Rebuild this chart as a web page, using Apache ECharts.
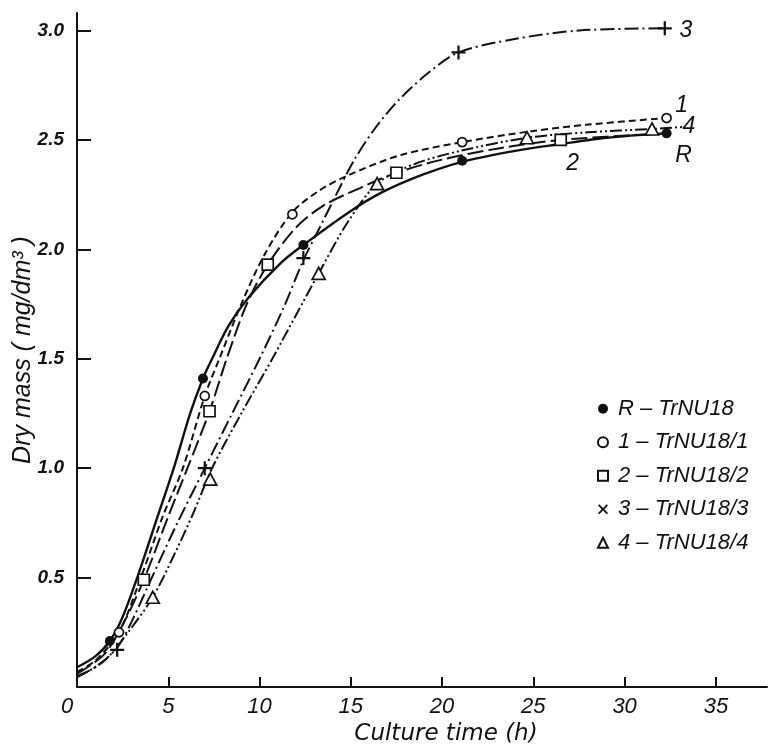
<!DOCTYPE html>
<html>
<head>
<meta charset="utf-8">
<script src="https://cdn.jsdelivr.net/npm/echarts@6/dist/echarts.min.js"></script>
<style>
  html, body { margin: 0; padding: 0; background: #fff; }
  #chart { width: 772px; height: 744px; }
</style>
</head>
<body>
<div id="chart"></div>
<script>
// strain names (legend) and short tags written next to curve ends
const strainNames = ['R \u2013 TrNU18', '1 \u2013 TrNU18/1', '2 \u2013 TrNU18/2', '3 \u2013 TrNU18/3', '4 \u2013 TrNU18/4'];
const curveTags = ['R', '1', '2', '3', '4'];

const xTicks = [0, 5, 10, 15, 20, 25, 30, 35];
const yTicks = [0.5, 1.0, 1.5, 2.0, 2.5, 3.0];

// measured points [culture time h, dry mass mg/dm3]
const pointsR = [[1.8, 0.21], [6.9, 1.41], [12.4, 2.02], [21.1, 2.405], [32.3, 2.53]];
const points1 = [[2.3, 0.25], [7.0, 1.33], [11.8, 2.16], [21.1, 2.49], [32.3, 2.60]];
const points2 = [[3.66, 0.49], [7.26, 1.26], [10.45, 1.93], [17.5, 2.35], [26.5, 2.5]];
const points3 = [[2.2, 0.17], [7.0, 1.0], [12.4, 1.96], [20.9, 2.9], [32.2, 3.01]];
const points4 = [[4.15, 0.41], [7.3, 0.95], [13.24, 1.89], [16.44, 2.3], [24.65, 2.51], [31.5, 2.55]];

// fitted curves
const curveR = [[0, 0.09], [1, 0.14], [1.8, 0.21], [2.5, 0.32], [3.3, 0.5], [4.3, 0.75], [5.3, 1.0], [6.2, 1.25],
  [6.9, 1.41], [7.4, 1.5], [8.3, 1.65], [9.4, 1.78], [11.2, 1.94], [12.4, 2.02], [14.9, 2.17], [16.7, 2.26],
  [18.9, 2.34], [21.1, 2.4], [24, 2.45], [26.4, 2.48], [29, 2.51], [32.3, 2.53]];
const curve1 = [[0, 0.07], [1, 0.12], [2.3, 0.25], [3.5, 0.5], [4.7, 0.78], [5.8, 1.0], [7.0, 1.33], [7.8, 1.5],
  [9, 1.75], [10.3, 1.98], [11.8, 2.17], [13.3, 2.27], [14.9, 2.34], [17.7, 2.43], [21.1, 2.49], [24.9, 2.54],
  [28, 2.57], [32.3, 2.6]];
const curve2 = [[0, 0.06], [1.5, 0.15], [2.6, 0.3], [3.66, 0.49], [5, 0.78], [6.05, 1.0], [7.26, 1.26], [8.2, 1.5],
  [9.3, 1.75], [10.45, 1.93], [12, 2.1], [13.5, 2.2], [15.5, 2.28], [17.5, 2.35], [20, 2.41], [23, 2.46],
  [26.5, 2.5], [32.3, 2.53]];
const curve3 = [[0, 0.05], [1, 0.09], [2.2, 0.18], [3, 0.3], [4.1, 0.5], [5.5, 0.75], [7.0, 1.0], [8.5, 1.25],
  [10.0, 1.5], [11.3, 1.73], [12.4, 1.95], [13.3, 2.1], [14.2, 2.25], [15.2, 2.41], [16.3, 2.55], [17.6, 2.68],
  [19.3, 2.81], [20.9, 2.9], [23.9, 2.96], [27.5, 3.0], [32.2, 3.01]];
const curve4 = [[0, 0.045], [1.5, 0.12], [2.8, 0.25], [4.15, 0.41], [5.3, 0.6], [6.4, 0.8], [7.4, 1.0], [9, 1.25],
  [10.7, 1.5], [12, 1.7], [13.24, 1.89], [14.8, 2.12], [16.44, 2.3], [18.5, 2.39], [21, 2.45], [24.65, 2.51],
  [28, 2.535], [31.5, 2.55], [33.3, 2.56]];

const allPoints = [pointsR, points1, points2, points3, points4];
const allCurves = [curveR, curve1, curve2, curve3, curve4];

const ink = '#111';
const fam = '"Liberation Sans", "DejaVu Sans", sans-serif';
const plusPath = 'path://M4.2,0h1.6v4.2h4.2v1.6h-4.2v4.2h-1.6v-4.2h-4.2v-1.6h4.2z';
const crossPath = 'path://M0,1.3L1.3,0L5,3.7L8.7,0L10,1.3L6.3,5L10,8.7L8.7,10L5,6.3L1.3,10L0,8.7L3.7,5Z';

const symbols = ['circle', 'circle', 'rect', plusPath, 'triangle'];
const symSizes = [10, 9, 11, 14, [13, 12]];
const fills = [ink, '#fff', '#fff', ink, '#fff'];
const borders = [0, 1.7, 1.7, 0, 1.7];
const legendIcons = ['circle', 'circle', 'rect', crossPath, 'triangle'];
const dashes = ['solid', [7, 4], [16, 5], [14, 4, 2, 4], [12, 3, 2, 3, 2, 3]];
// tag label placement: which point carries it and offset from the marker
const tagPoint = [4, 4, 4, 4, 5];
const tagOffset = [[17, 22], [15, -12], [12, 24], [21, 2], [37, -2]];

const chart = echarts.init(document.getElementById('chart'), null, { renderer: 'canvas' });

const series = [];
allPoints.forEach(function (pts, i) {
  series.push({
    type: 'scatter',
    name: strainNames[i],
    symbol: symbols[i],
    symbolSize: symSizes[i],
    z: 4,
    itemStyle: { color: fills[i], borderColor: ink, borderWidth: borders[i], opacity: 1 },
    data: pts.map(function (p, k) {
      if (k !== tagPoint[i]) return p;
      return {
        value: p,
        label: {
          show: true, position: 'inside', offset: tagOffset[i], formatter: curveTags[i],
          color: ink, fontSize: 23, fontStyle: 'italic', fontFamily: fam
        }
      };
    })
  });
});
allCurves.forEach(function (c, i) {
  series.push({
    type: 'line',
    name: strainNames[i],
    data: c,
    smooth: 0.3,
    symbol: 'none',
    z: 2,
    lineStyle: { color: ink, width: i === 0 ? 2.4 : 2, type: dashes[i] }
  });
});

chart.setOption({
  backgroundColor: '#ffffff',
  animation: false,
  grid: { left: 77, right: 5, top: 13, bottom: 57, outerBoundsMode: 'none', containLabel: false },
  legend: {
    orient: 'vertical',
    left: 592,
    top: 392,
    itemWidth: 10,
    itemHeight: 10,
    itemGap: 10,
    selectedMode: false,
    textStyle: { color: ink, fontSize: 22, fontStyle: 'italic', fontFamily: fam, lineHeight: 23.5, padding: [0, 0, 0, 5] },
    data: strainNames.map(function (n, i) { return { name: n, icon: legendIcons[i] }; })
  },
  xAxis: {
    type: 'value',
    min: 0,
    max: 37.8,
    name: 'Culture time (h)',
    nameLocation: 'middle',
    nameGap: 36,
    nameMoveOverlap: false,
    nameTextStyle: { color: ink, fontSize: 23, fontStyle: 'italic', fontFamily: '"DejaVu Sans", sans-serif', padding: [0, 0, 0, 48] },
    splitLine: { show: false },
    axisLine: { lineStyle: { color: ink, width: 2 } },
    axisTick: { inside: true, length: 10, customValues: xTicks, lineStyle: { color: ink, width: 2 } },
    axisLabel: {
      customValues: xTicks,
      margin: 9,
      color: ink, fontSize: 22, fontStyle: 'italic', fontFamily: fam,
      formatter: function (v) { return v === 0 ? '{o|0}' : String(v); },
      rich: { o: { padding: [0, 20, 0, 0], color: ink, fontSize: 22, fontStyle: 'italic', fontFamily: fam } }
    }
  },
  yAxis: {
    type: 'value',
    min: 0,
    max: 3.08,
    name: 'Dry mass ( mg/dm\u00b3 )',
    nameLocation: 'middle',
    nameGap: 41,
    nameMoveOverlap: false,
    nameTextStyle: { color: ink, fontSize: 25, fontStyle: 'italic', fontFamily: fam },
    splitLine: { show: false },
    axisLine: { lineStyle: { color: ink, width: 2 } },
    axisTick: { inside: true, length: 14, customValues: yTicks, lineStyle: { color: ink, width: 2 } },
    axisLabel: {
      customValues: yTicks,
      margin: 13,
      color: ink, fontSize: 19, fontStyle: 'italic', fontWeight: 'bold', fontFamily: fam,
      formatter: function (v) { return v.toFixed(1); }
    }
  },
  series: series
});
</script>
</body>
</html>
